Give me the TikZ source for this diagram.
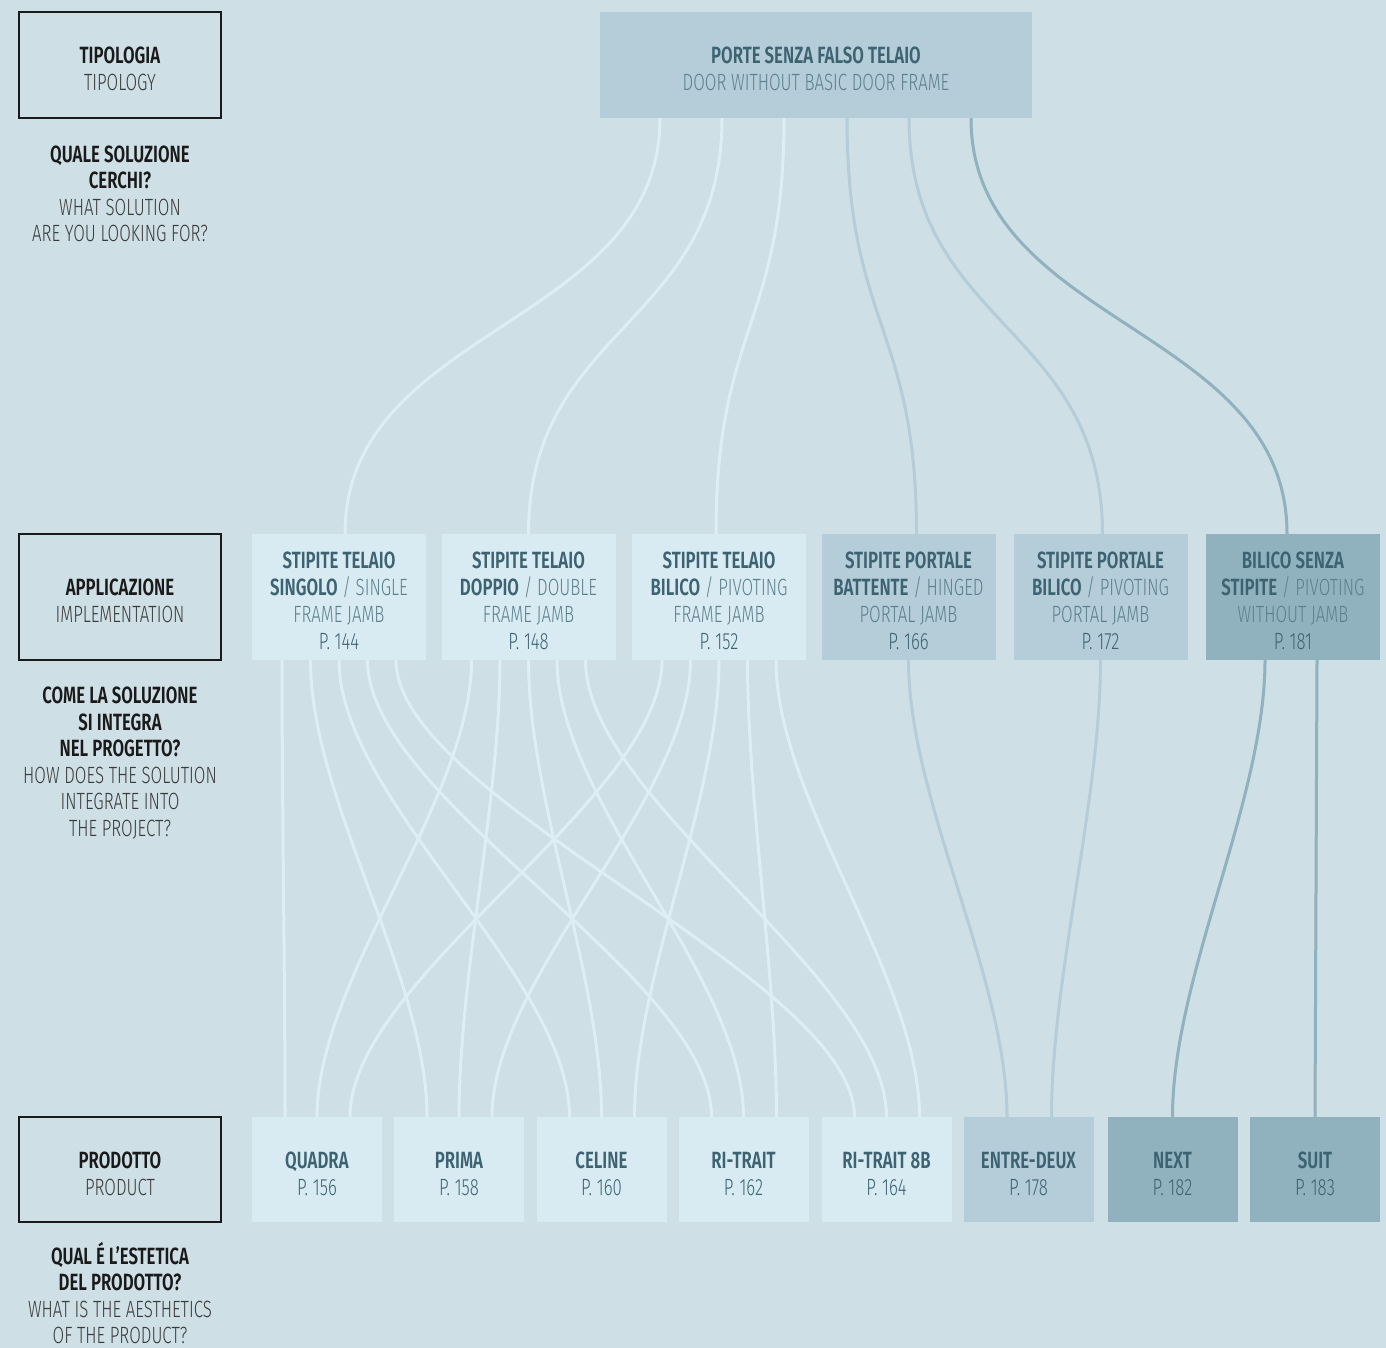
\documentclass[tikz,border=0pt]{standalone}
\usepackage{fontspec}
\setmainfont{Fira Sans}[FakeStretch=0.715,UprightFont={Fira Sans Light},BoldFont={Fira Sans SemiBold}]
\definecolor{paper}{HTML}{CEDFE6}
\definecolor{cardpale}{HTML}{D8EBF2}
\definecolor{cardmid}{HTML}{B4CDD8}
\definecolor{carddeep}{HTML}{8FB2BE}
\definecolor{linepale}{HTML}{DEEEF4}
\definecolor{txtdark}{HTML}{3D6372}
\definecolor{txtlight}{HTML}{5D808C}
\definecolor{inkbold}{HTML}{1A1A1A}
\definecolor{inkreg}{HTML}{3A3A3A}
\usetikzlibrary{positioning}

\begin{document}
\begin{tikzpicture}[x=1pt,y=-1pt,
  txt/.style={font=\fontsize{23.5}{27}\selectfont,align=center,inner sep=0pt},
  lowered/.style={txt,align=flush center,execute at begin node={\rule{0pt}{25pt}}},
  legend/.style={lowered,draw=inkbold,line width=1.4pt,minimum width=202pt,text width=202pt,text=inkbold},
  question/.style={txt,font=\fontsize{23.5}{26.5}\selectfont,text=inkbold},
  palecard/.style={lowered,fill=cardpale,text=txtdark},
  midcard/.style={lowered,fill=cardmid,text=txtdark},
  deepcard/.style={lowered,fill=carddeep,text=txtdark},
  jamb/.style={minimum width=174pt,text width=174pt,minimum height=126pt},
  item/.style={minimum width=130pt,text width=130pt,minimum height=105pt},
  paleflow/.style={draw=linepale,line width=3pt},
  midflow/.style={draw=cardmid,line width=3pt},
  deepflow/.style={draw=carddeep,line width=3pt}]
\fill[paper] (0,0) rectangle (1386,1348);

\node[legend,minimum height=106pt] (tipo) at (120,65) {\textbf{TIPOLOGIA}\\{\color{inkreg}TIPOLOGY}};
\node[question] (tipoq) at (120,194) {\bfseries QUALE SOLUZIONE\\\bfseries CERCHI?\\{\color{inkreg}WHAT SOLUTION}\\{\color{inkreg}ARE YOU LOOKING FOR?}};
\node[legend,minimum height=126pt] (appl) at (120,597) {\textbf{APPLICAZIONE}\\{\color{inkreg}IMPLEMENTATION}};
\node[question] (applq) at (120,763) {\bfseries COME LA SOLUZIONE\\\bfseries SI INTEGRA\\\bfseries NEL PROGETTO?\\{\color{inkreg}HOW DOES THE SOLUTION}\\{\color{inkreg}INTEGRATE INTO}\\{\color{inkreg}THE PROJECT?}};
\node[legend,minimum height=105pt] (prod) at (120,1169.5) {\textbf{PRODOTTO}\\{\color{inkreg}PRODUCT}};
\node[question] (prodq) at (120,1293) {\bfseries QUAL É L’ESTETICA\\\bfseries DEL PRODOTTO?\\{\color{inkreg}WHAT IS THE AESTHETICS}\\{\color{inkreg}OF THE PRODUCT?}};

\node[midcard,minimum width=432pt,text width=432pt,minimum height=106pt] (porte) at (816,65) {\textbf{PORTE SENZA FALSO TELAIO}\\{\color{txtlight}DOOR WITHOUT BASIC DOOR FRAME}};

\node[palecard,jamb] (singolo) at (339,597) {\textbf{STIPITE TELAIO}\\\textbf{SINGOLO} {\color{txtlight}/ SINGLE}\\{\color{txtlight}FRAME JAMB}\\P. 144};
\node[palecard,jamb] (doppio) at (528.5,597) {\textbf{STIPITE TELAIO}\\\textbf{DOPPIO} {\color{txtlight}/ DOUBLE}\\{\color{txtlight}FRAME JAMB}\\P. 148};
\node[palecard,jamb] (bilico) at (719,597) {\textbf{STIPITE TELAIO}\\\textbf{BILICO} {\color{txtlight}/ PIVOTING}\\{\color{txtlight}FRAME JAMB}\\P. 152};
\node[midcard,jamb] (battente) at (908.5,597) {\textbf{STIPITE PORTALE}\\\textbf{BATTENTE} {\color{txtlight}/ HINGED}\\{\color{txtlight}PORTAL JAMB}\\P. 166};
\node[midcard,jamb] (portbilico) at (1100.5,597) {\textbf{STIPITE PORTALE}\\\textbf{BILICO} {\color{txtlight}/ PIVOTING}\\{\color{txtlight}PORTAL JAMB}\\P. 172};
\node[deepcard,jamb] (senza) at (1293,597) {\textbf{BILICO SENZA}\\\textbf{STIPITE} {\color{txtlight}/ PIVOTING}\\{\color{txtlight}WITHOUT JAMB}\\P. 181};

\node[palecard,item] (quadra) at (317,1169.5) {\textbf{QUADRA}\\P. 156};
\node[palecard,item] (prima) at (459,1169.5) {\textbf{PRIMA}\\P. 158};
\node[palecard,item] (celine) at (601.5,1169.5) {\textbf{CELINE}\\P. 160};
\node[palecard,item] (ritrait) at (743.5,1169.5) {\textbf{RI-TRAIT}\\P. 162};
\node[palecard,item] (ritraitb) at (886.5,1169.5) {\textbf{RI-TRAIT 8B}\\P. 164};
\node[midcard,item] (entredeux) at (1028.5,1169.5) {\textbf{ENTRE-DEUX}\\P. 178};
\node[deepcard,item] (next) at (1172.5,1169.5) {\textbf{NEXT}\\P. 182};
\node[deepcard,item] (suit) at (1315,1169.5) {\textbf{SUIT}\\P. 183};

\draw[paleflow] ([xshift=-156pt]porte.south) .. controls +(0,208) and +(0,-208) .. ([xshift=6pt]singolo.north);
\draw[paleflow] ([xshift=-94pt]porte.south) .. controls +(0,208) and +(0,-208) .. (doppio.north);
\draw[paleflow] ([xshift=-32pt]porte.south) .. controls +(0,208) and +(0,-208) .. ([xshift=-3pt]bilico.north);
\draw[midflow] ([xshift=31pt]porte.south) .. controls +(0,208) and +(0,-208) .. ([xshift=8pt]battente.north);
\draw[midflow] ([xshift=93pt]porte.south) .. controls +(0,208) and +(0,-208) .. ([xshift=2pt]portbilico.north);
\draw[deepflow] ([xshift=155pt]porte.south) .. controls +(0,208) and +(0,-208) .. ([xshift=-6pt]senza.north);

\draw[paleflow] ([xshift=-57pt]singolo.south) .. controls +(0,140) and +(0,-140) .. ([xshift=-32pt]quadra.north);
\draw[paleflow] ([xshift=-28.5pt]singolo.south) .. controls +(0,140) and +(0,-140) .. ([xshift=-32pt]prima.north);
\draw[paleflow] (singolo.south) .. controls +(0,140) and +(0,-140) .. ([xshift=-32pt]celine.north);
\draw[paleflow] ([xshift=28.5pt]singolo.south) .. controls +(0,140) and +(0,-140) .. ([xshift=-32pt]ritrait.north);
\draw[paleflow] ([xshift=57pt]singolo.south) .. controls +(0,140) and +(0,-140) .. ([xshift=-32pt]ritraitb.north);
\draw[paleflow] ([xshift=-57pt]doppio.south) .. controls +(0,140) and +(0,-140) .. (quadra.north);
\draw[paleflow] ([xshift=-28.5pt]doppio.south) .. controls +(0,140) and +(0,-140) .. (prima.north);
\draw[paleflow] (doppio.south) .. controls +(0,140) and +(0,-140) .. (celine.north);
\draw[paleflow] ([xshift=28.5pt]doppio.south) .. controls +(0,140) and +(0,-140) .. (ritrait.north);
\draw[paleflow] ([xshift=57pt]doppio.south) .. controls +(0,140) and +(0,-140) .. (ritraitb.north);
\draw[paleflow] ([xshift=-57pt]bilico.south) .. controls +(0,140) and +(0,-140) .. ([xshift=33pt]quadra.north);
\draw[paleflow] ([xshift=-28.5pt]bilico.south) .. controls +(0,140) and +(0,-140) .. ([xshift=33pt]prima.north);
\draw[paleflow] (bilico.south) .. controls +(0,140) and +(0,-140) .. ([xshift=33pt]celine.north);
\draw[paleflow] ([xshift=28.5pt]bilico.south) .. controls +(0,140) and +(0,-140) .. ([xshift=33pt]ritrait.north);
\draw[paleflow] ([xshift=57pt]bilico.south) .. controls +(0,140) and +(0,-140) .. ([xshift=33pt]ritraitb.north);

\draw[midflow] (battente.south) .. controls +(0,140) and +(0,-140) .. ([xshift=-21.5pt]entredeux.north);
\draw[midflow] (portbilico.south) .. controls +(0,140) and +(0,-140) .. ([xshift=23pt]entredeux.north);
\draw[deepflow] ([xshift=-28pt]senza.south) .. controls +(0,140) and +(0,-140) .. (next.north);
\draw[deepflow] ([xshift=24pt]senza.south) -- (suit.north);
\end{tikzpicture}
\end{document}
